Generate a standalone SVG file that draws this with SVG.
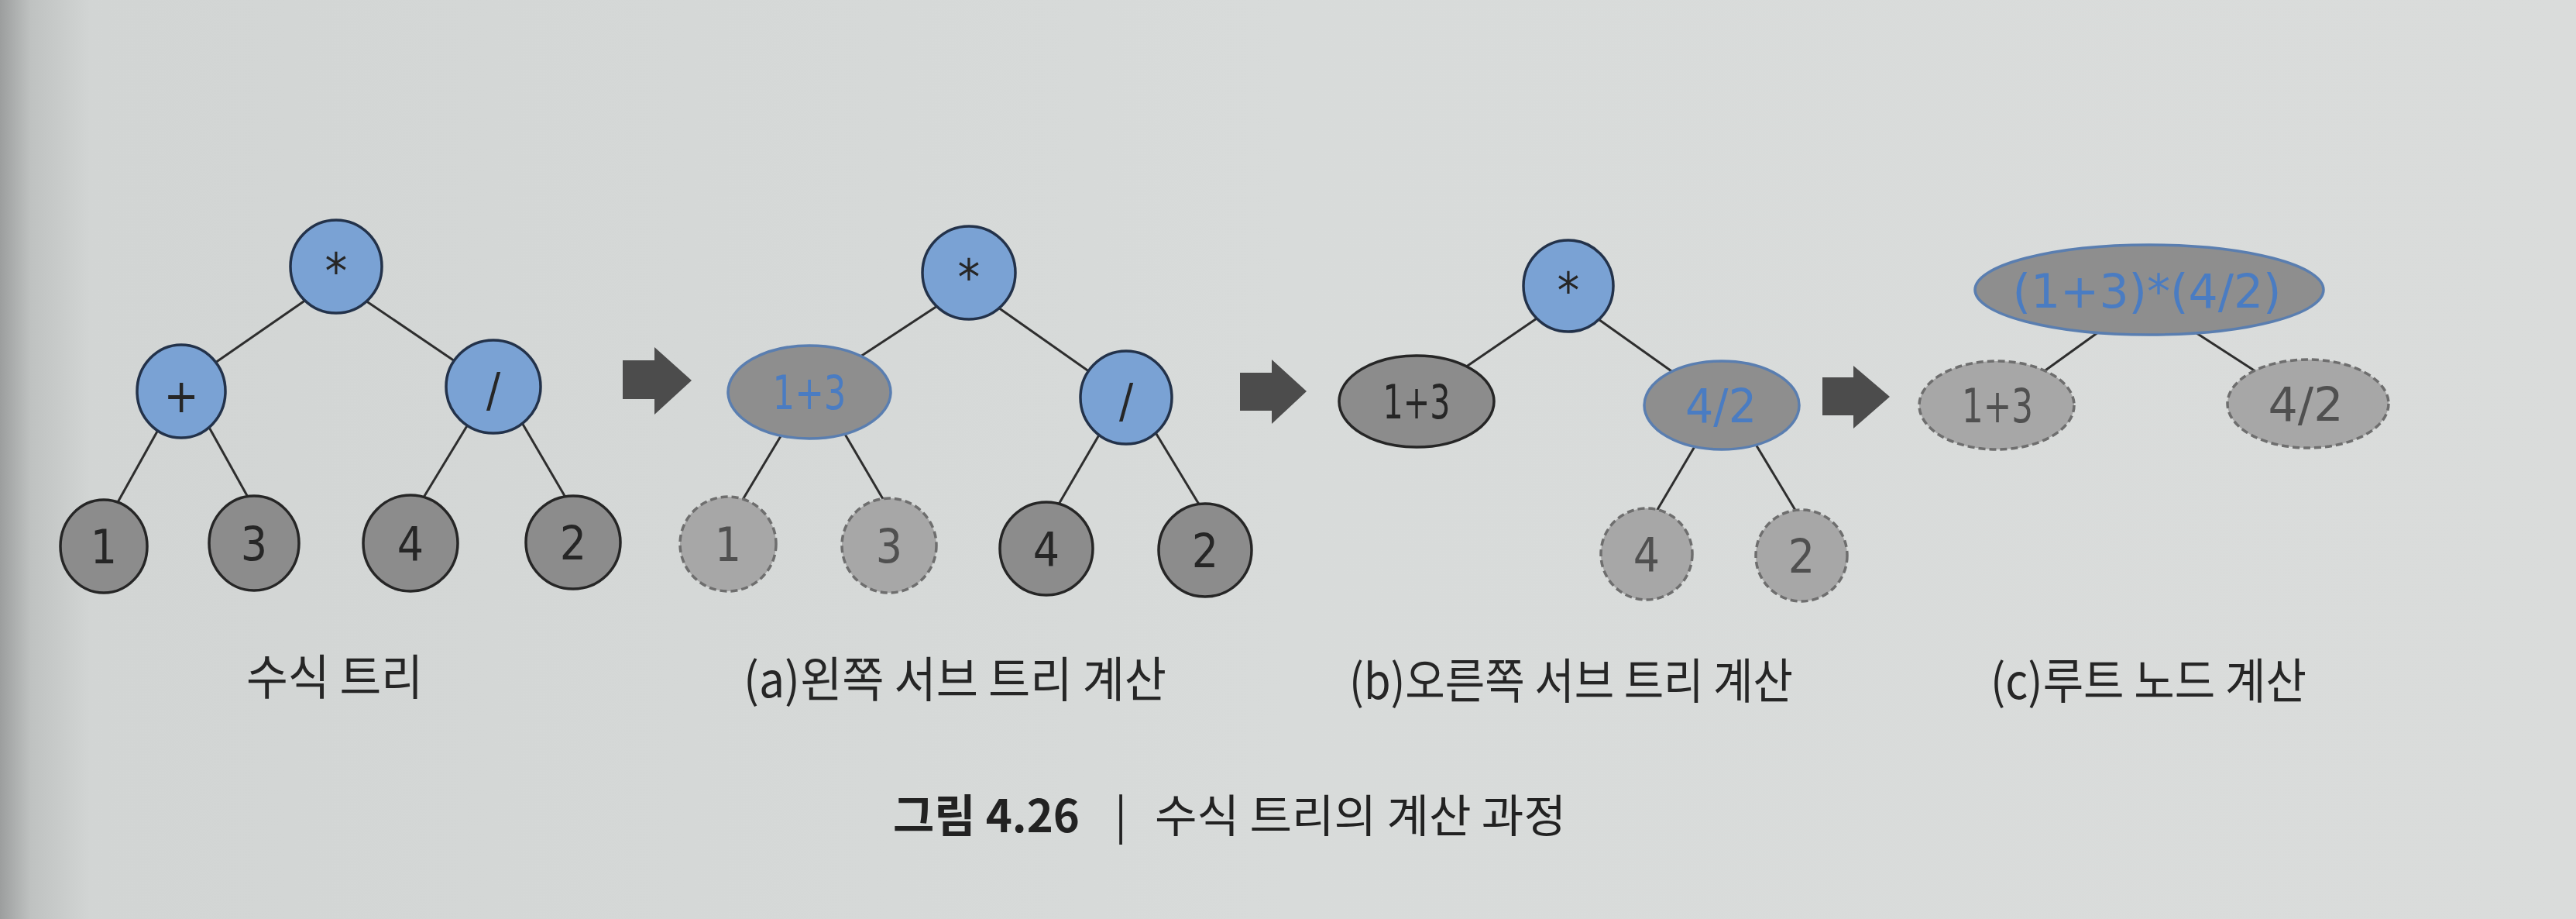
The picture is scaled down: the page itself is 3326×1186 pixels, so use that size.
<svg xmlns="http://www.w3.org/2000/svg" width="3326" height="1186" viewBox="0 0 3326 1186">
<defs>
<linearGradient id="page" x1="0" y1="0" x2="1" y2="0">
<stop offset="0" stop-color="#9c9e9e"/>
<stop offset="0.012" stop-color="#bfc2c1"/>
<stop offset="0.035" stop-color="#d2d5d4"/>
<stop offset="0.5" stop-color="#d8dbda"/>
<stop offset="1" stop-color="#dadcdb"/>
</linearGradient>
<style>
.edge{stroke:#2e2e2e;stroke-width:3;fill:none}
.blue{fill:#7aa2d4;stroke:#23324a;stroke-width:3.5}
.dark{fill:#8c8c8c;stroke:#262626;stroke-width:3.5}
.done{fill:#8e8e8e;stroke:#5a7eb0;stroke-width:3.5}
.dash{fill:#a7a7a7;stroke:#6e6e6e;stroke-width:3.5;stroke-dasharray:9 5}
.t{font-family:"DejaVu Sans Condensed","DejaVu Sans",sans-serif;font-size:60px;text-anchor:middle}
.tk{fill:#262626}
.tb{fill:#4a7cc2}
.tg{fill:#505050}
.ast{font-size:64px}
.arrow{fill:#4c4c4c}
.cap{font-family:"Noto Sans CJK KR","Noto Sans",sans-serif;font-size:62px;fill:#262626}
.title{font-family:"Noto Sans CJK KR","Noto Sans",sans-serif;font-size:58px;fill:#222}
</style>
</defs>
<rect x="0" y="0" width="3326" height="1186" fill="url(#page)"/>

<g id="connectors">
<line class="edge" x1="395" y1="387" x2="278" y2="468"/>
<line class="edge" x1="469" y1="386" x2="590" y2="468"/>
<line class="edge" x1="204" y1="555" x2="151" y2="650"/>
<line class="edge" x1="268" y1="548" x2="322" y2="645"/>
<line class="edge" x1="604" y1="548" x2="545" y2="645"/>
<line class="edge" x1="673" y1="544" x2="732" y2="645"/>

<line class="edge" x1="1210" y1="395" x2="1108" y2="462"/>
<line class="edge" x1="1289" y1="397" x2="1407" y2="480"/>
<line class="edge" x1="1011" y1="558" x2="957" y2="648"/>
<line class="edge" x1="1089" y1="557" x2="1143" y2="649"/>
<line class="edge" x1="1421" y1="558" x2="1365" y2="654"/>
<line class="edge" x1="1490" y1="555" x2="1550" y2="654"/>

<line class="edge" x1="1987" y1="409" x2="1889" y2="476"/>
<line class="edge" x1="2061" y1="410" x2="2161" y2="481"/>
<line class="edge" x1="2190" y1="573" x2="2138" y2="661"/>
<line class="edge" x1="2266" y1="572" x2="2319" y2="660"/>

<line class="edge" x1="2713" y1="426" x2="2638" y2="480"/>
<line class="edge" x1="2830" y1="426" x2="2915" y2="481"/>
</g>

<g id="arrows">
<path class="arrow" d="M804,465 H845 V448 L893,491 L845,535 V515 H804 Z"/>
<path class="arrow" d="M1601,481 H1642 V464 L1687,505 L1642,547 V530 H1601 Z"/>
<path class="arrow" d="M2353,487 H2393 V472 L2440,512 L2393,553 V536 H2353 Z"/>
</g>

<!-- Tree 1 -->
<g id="t1-root"><ellipse class="blue" cx="434" cy="344" rx="59" ry="60"/><text class="t tk ast" x="434" y="372">*</text></g>
<g id="t1-plus"><ellipse class="blue" cx="234" cy="505" rx="57" ry="60"/><text class="t tk" x="234" y="532">+</text></g>
<g id="t1-div"><ellipse class="blue" cx="637" cy="499" rx="61" ry="60"/><text class="t tk" x="637" y="524">/</text></g>
<g id="t1-n1"><ellipse class="dark" cx="134" cy="705" rx="56" ry="60"/><text class="t tk" x="134" y="727">1</text></g>
<g id="t1-n3"><ellipse class="dark" cx="328" cy="701" rx="58" ry="61"/><text class="t tk" x="328" y="723">3</text></g>
<g id="t1-n4"><ellipse class="dark" cx="530" cy="701" rx="61" ry="62"/><text class="t tk" x="530" y="723">4</text></g>
<g id="t1-n2"><ellipse class="dark" cx="740" cy="700" rx="61" ry="60"/><text class="t tk" x="740" y="722">2</text></g>

<!-- Tree 2 -->
<g id="t2-root"><ellipse class="blue" cx="1251" cy="352" rx="60" ry="60"/><text class="t tk ast" x="1251" y="380">*</text></g>
<g id="t2-13"><ellipse class="done" cx="1045" cy="506" rx="105" ry="60"/><text class="t tb" x="1045" y="528" textLength="95" lengthAdjust="spacingAndGlyphs">1+3</text></g>
<g id="t2-div"><ellipse class="blue" cx="1454" cy="513" rx="59" ry="60"/><text class="t tk" x="1454" y="538">/</text></g>
<g id="t2-n1"><ellipse class="dash" cx="940" cy="702" rx="62" ry="61"/><text class="t tg" x="940" y="724">1</text></g>
<g id="t2-n3"><ellipse class="dash" cx="1148" cy="704" rx="61" ry="61"/><text class="t tg" x="1148" y="726">3</text></g>
<g id="t2-n4"><ellipse class="dark" cx="1351" cy="708" rx="60" ry="60"/><text class="t tk" x="1351" y="730">4</text></g>
<g id="t2-n2"><ellipse class="dark" cx="1556" cy="710" rx="60" ry="60"/><text class="t tk" x="1556" y="732">2</text></g>

<!-- Tree 3 -->
<g id="t3-root"><ellipse class="blue" cx="2025" cy="369" rx="58" ry="59"/><text class="t tk ast" x="2025" y="397">*</text></g>
<g id="t3-13"><ellipse class="dark" cx="1829" cy="518" rx="100" ry="59"/><text class="t tk" x="1829" y="540" textLength="87" lengthAdjust="spacingAndGlyphs">1+3</text></g>
<g id="t3-42"><ellipse class="done" cx="2223" cy="523" rx="100" ry="57"/><text class="t tb" x="2222" y="545" textLength="92" lengthAdjust="spacingAndGlyphs">4/2</text></g>
<g id="t3-n4"><ellipse class="dash" cx="2126" cy="715" rx="59" ry="59"/><text class="t tg" x="2126" y="737">4</text></g>
<g id="t3-n2"><ellipse class="dash" cx="2326" cy="717" rx="59" ry="59"/><text class="t tg" x="2326" y="739">2</text></g>

<!-- Tree 4 -->
<g id="t4-root"><ellipse class="done" cx="2775" cy="374" rx="225" ry="58"/><text class="t tb" x="2772" y="397" font-size="62" textLength="347" lengthAdjust="spacingAndGlyphs">(1+3)*(4/2)</text></g>
<g id="t4-13"><ellipse class="dash" cx="2578" cy="523" rx="100" ry="57"/><text class="t tg" x="2579" y="545" textLength="92" lengthAdjust="spacingAndGlyphs">1+3</text></g>
<g id="t4-42"><ellipse class="dash" cx="2980" cy="521" rx="104" ry="57"/><text class="t tg" x="2977" y="543" textLength="97" lengthAdjust="spacingAndGlyphs">4/2</text></g>

<g id="labels">
<text class="cap" x="318" y="897" textLength="228" lengthAdjust="spacingAndGlyphs">수식 트리</text>
<text class="cap" x="960" y="900" textLength="546" lengthAdjust="spacingAndGlyphs">(a)왼쪽 서브 트리 계산</text>
<text class="cap" x="1742" y="902" textLength="573" lengthAdjust="spacingAndGlyphs">(b)오른쪽 서브 트리 계산</text>
<text class="cap" x="2570" y="902" textLength="408" lengthAdjust="spacingAndGlyphs">(c)루트 노드 계산</text>
</g>

<g id="caption">
<text class="title" x="1153" y="1074" font-weight="bold" textLength="241" lengthAdjust="spacingAndGlyphs">그림 4.26</text>
<text class="title" x="1447" y="1074" text-anchor="middle">|</text>
<text class="title" x="1491" y="1074" textLength="531" lengthAdjust="spacingAndGlyphs">수식 트리의 계산 과정</text>
</g>
</svg>
